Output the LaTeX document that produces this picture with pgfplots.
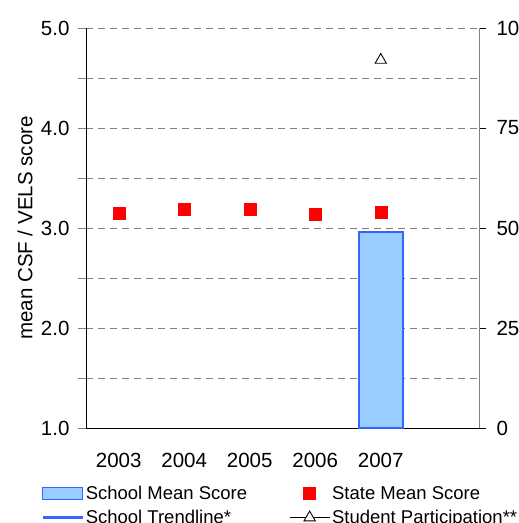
\documentclass[border=0pt]{standalone}
\usepackage{fontspec}
\setmainfont{Liberation Sans}
\usepackage{pgfplots}
\pgfplotsset{compat=1.18}

\definecolor{barfill}{RGB}{153,204,255}
\definecolor{barline}{RGB}{51,102,255}
\definecolor{gridgray}{RGB}{128,128,128}

\pgfplotsset{
  chartbase/.style={
    at={(86pt,-428pt)}, anchor=south west,
    width=393pt, height=400pt, scale only axis,
    xmin=-0.5, xmax=5.5,
    tick align=outside,
    major tick length=8pt, minor tick length=8pt,
    /pgf/number format/assume math mode=true,
    tick label style={font=\fontsize{20.5}{24}\selectfont},
    label style={font=\fontsize{20.5}{24}\selectfont},
  },
  boxlegend/.style={legend image code/.code={\draw[#1] (0pt,-6pt) rectangle (40pt,6pt);}},
  marklegend/.style={legend image code/.code={\draw[#1] plot coordinates {(20pt,0pt)};}},
  linelegend/.style={legend image code/.code={\draw[#1, line width=2.5pt] (0pt,0pt) -- (40pt,0pt);}},
  linemarklegend/.style={legend image code/.code={\draw[#1, mark repeat=2, mark phase=2]
    plot coordinates {(0pt,0pt) (20pt,0pt) (40pt,0pt)};}},
}

\begin{document}
\begin{tikzpicture}
\useasboundingbox (0pt,0pt) rectangle (519pt,-523pt);

\begin{axis}[
  chartbase,
  ymin=1, ymax=5,
  axis lines*=left,
  xtick={0,1,2,3,4},
  xticklabels={2003,2004,2005,2006,2007},
  x tick style={draw=none},
  xticklabel style={yshift=-14pt},
  ytick={1,2,3,4,5},
  minor ytick={1.5,2.5,3.5,4.5},
  yticklabel style={xshift=-5pt, /pgf/number format/fixed,
    /pgf/number format/fixed zerofill,
    /pgf/number format/precision=1},
  ymajorgrids, yminorgrids,
  major grid style={gridgray, line width=0.8pt, dash pattern=on 7pt off 5pt},
  minor grid style={gridgray, line width=0.8pt, dash pattern=on 7pt off 5pt},
  ylabel={mean CSF / VELS score},
  ylabel style={at={(axis description cs:-0.155,0.5)}, anchor=center},
  legend columns=2,
  legend cell align=left,
  legend style={draw=none, fill=none,
    at={(axis description cs:-0.122,-0.135)}, anchor=north west,
    font=\fontsize{18.5}{22}\selectfont,
    row sep=5pt,
    /tikz/every even column/.append style={column sep=40pt}},
]
% school mean score (bar)
\addplot[ybar, bar width=44pt, fill=barfill, draw=barline, line width=1.5pt, boxlegend]
  coordinates {(4,2.96)};
\addlegendentry{School Mean Score}
% state mean score
\addplot[only marks, mark=square*, mark size=6pt, color=red,
  mark options={fill=red, draw=red}, marklegend]
  coordinates {(0,3.15) (1,3.19) (2,3.19) (3,3.14) (4,3.16)};
\addlegendentry{State Mean Score}
\addlegendimage{barline, linelegend}
\addlegendentry{School Trendline*}
\addlegendimage{black, line width=0.9pt, mark=triangle*, mark size=6.5pt,
  mark options={fill=white}, linemarklegend}
\addlegendentry{Student Participation**}
\end{axis}

\begin{axis}[
  chartbase,
  ymin=0, ymax=100,
  axis y line*=right, axis x line=none,
  y axis line style={gridgray},
  ytick={0,25,50,75,100},
  major tick length=7pt,
  y tick style={black},
  yticklabel style={xshift=7pt},
]
\addplot[only marks, mark=triangle, mark size=6.5pt, color=black,
  mark options={line width=0.9pt}]
  coordinates {(4,92)};
\end{axis}
\end{tikzpicture}
\end{document}
